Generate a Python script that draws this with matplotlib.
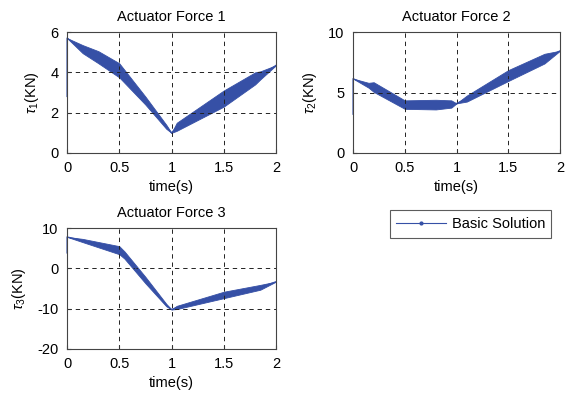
import matplotlib
matplotlib.use("Agg")
import matplotlib.pyplot as plt
from matplotlib.lines import Line2D

plt.rcParams['font.family'] = ['Liberation Sans', 'DejaVu Sans']
plt.rcParams['mathtext.fontset'] = 'custom'
plt.rcParams['mathtext.rm'] = 'Liberation Sans'
plt.rcParams['mathtext.it'] = 'Liberation Sans:italic'
plt.rcParams['axes.unicode_minus'] = False

# ---- data (envelope: knot times, centre, half-width) ----
t1 = [0.0, 0.0, 0.15, 0.3, 0.5, 0.75, 0.95, 1.0, 1.05, 1.5, 1.8, 1.85, 2.0]
c1 = [2.8, 5.7, 5.15, 4.75, 4.1, 2.6, 1.3, 1.0, 1.3, 2.7, 3.7, 3.85, 4.35]
w1 = [0.0, 0.0, 0.2, 0.3, 0.35, 0.2, 0.1, 0.0, 0.2, 0.4, 0.3, 0.2, 0.0]

t2 = [0.0, 0.0, 0.15, 0.2, 0.5, 0.8, 0.95, 1.0, 1.1, 1.5, 1.85, 2.0]
c2 = [3.2, 6.15, 5.6, 5.45, 4.0, 4.0, 4.05, 4.1, 4.5, 6.4, 7.8, 8.45]
w2 = [0.0, 0.0, 0.2, 0.4, 0.35, 0.4, 0.3, 0.0, 0.25, 0.45, 0.4, 0.0]

t3 = [0.0, 0.0, 0.15, 0.5, 0.55, 0.75, 0.95, 1.0, 1.05, 1.5, 1.85, 2.0]
c3 = [3.8, 7.8, 6.9, 4.5, 3.3, -2.9, -9.1, -10.2, -9.7, -6.6, -4.7, -3.3]
w3 = [0.0, 0.0, 0.4, 1.0, 0.9, 0.8, 0.3, 0.0, 0.4, 0.8, 0.6, 0.0]

titles = ['Actuator Force 1', 'Actuator Force 2', 'Actuator Force 3']
ylabels = [r'$\tau_1$(KN)', r'$\tau_2$(KN)', r'$\tau_3$(KN)']
yticks = [[0, 2, 4, 6], [0, 5, 10], [-20, -10, 0, 10]]
xticks = [0, 0.5, 1, 1.5, 2]
xticklabels = ['0', '0.5', '1', '1.5', '2']
legend_label = 'Basic Solution'

color = '#3650a6'

W, H = 566, 399
fig = plt.figure(figsize=(W / 100, H / 100), dpi=100)
fig.patch.set_facecolor('white')

positions = [(67, 32, 276, 153), (353, 32, 560, 153), (67, 228, 276, 349)]
datasets = [(t1, c1, w1), (t2, c2, w2), (t3, c3, w3)]

for (x0, y0, x1, y1), (t, c, w), title, yl, yt in zip(positions, datasets, titles, ylabels, yticks):
    ax = fig.add_axes([x0 / W, (H - y1) / H, (x1 - x0) / W, (y1 - y0) / H])
    lo = [ci - wi for ci, wi in zip(c, w)]
    hi = [ci + wi for ci, wi in zip(c, w)]
    ax.fill_between(t, lo, hi, color=color, linewidth=0.6, edgecolor=color)
    ax.plot(t, c, color=color, lw=0.8, clip_on=False)
    ax.set_xlim(0, 2)
    ax.set_ylim(yt[0], yt[-1])
    ax.set_xticks(xticks)
    ax.set_xticklabels(xticklabels)
    ax.set_yticks(yt)
    ax.tick_params(direction='in', length=3, labelsize=10.5, color='#333333', pad=6)
    ax.grid(True, color='#222222', linestyle=(0, (4.5, 4)), linewidth=0.7)
    for s in ax.spines.values():
        s.set_color('#444444')
        s.set_linewidth(0.8)
    ax.set_title(title, fontsize=10.5, pad=8)
    ax.set_xlabel('time(s)', fontsize=10.5, labelpad=3)
    ax.set_ylabel(yl, fontsize=10.5, labelpad=7)

handle = Line2D([], [], color=color, lw=0.8, marker='.', markersize=4)
lx0, ly0, lx1, ly1 = 386, 209, 555, 239
leg = fig.legend([handle], [legend_label], loc='center',
                 bbox_to_anchor=((lx0 + lx1) / 2 / W, 1 - (ly0 + ly1) / 2 / H),
                 fontsize=10.5, frameon=True, fancybox=False, handlelength=3.4,
                 handletextpad=0.4, borderpad=0.45, numpoints=1)
leg.get_frame().set_edgecolor('#333333')
leg.get_frame().set_linewidth(0.8)

fig.savefig('out.png', dpi=100)
